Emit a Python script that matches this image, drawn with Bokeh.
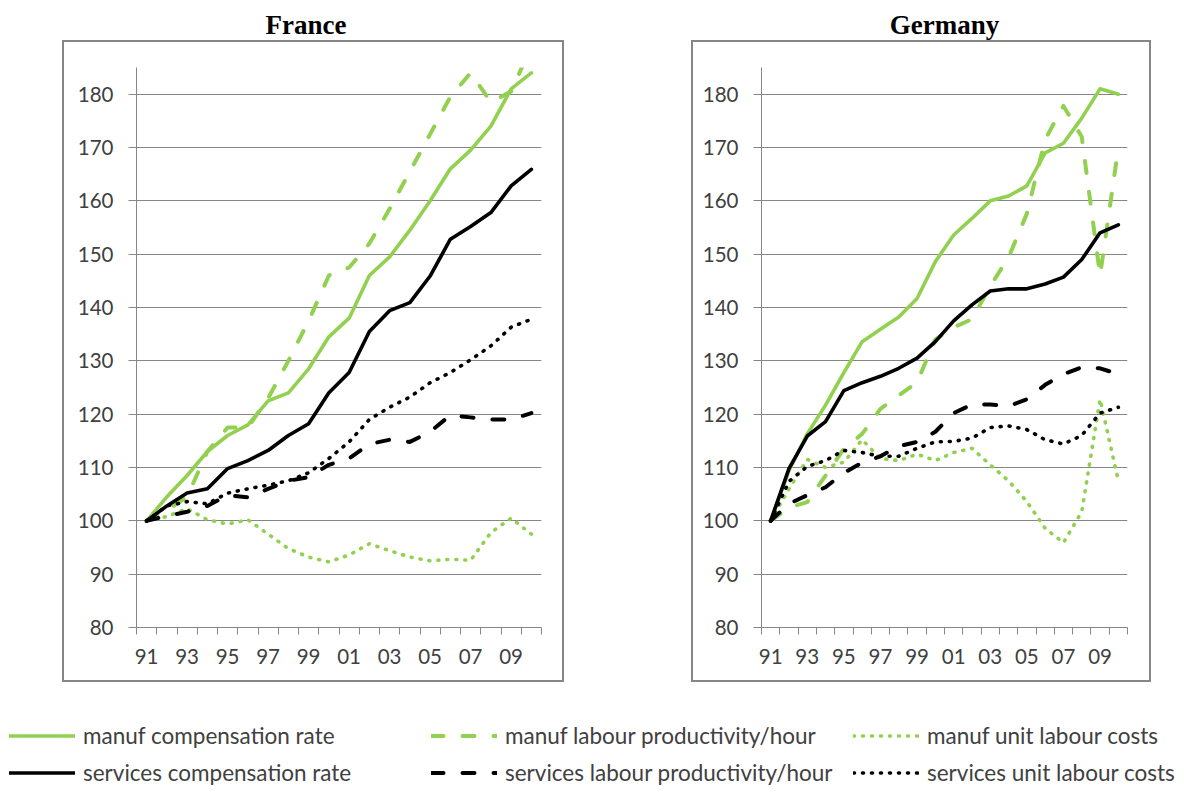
from bokeh.plotting import figure
from bokeh.models import (Range1d, FixedTicker, Legend, LegendItem, Spacer)
from bokeh.layouts import column, row
from bokeh.embed import file_html
from bokeh.resources import INLINE
from bokeh.core.properties import value

# ---------------- data ----------------
years = list(range(1991, 2011))
tick_years = [1991, 1993, 1995, 1997, 1999, 2001, 2003, 2005, 2007, 2009]
tick_labels = ["91", "93", "95", "97", "99", "01", "03", "05", "07", "09"]
y_ticks = [80, 90, 100, 110, 120, 130, 140, 150, 160, 170, 180]
titles = ["France", "Germany"]

series_names = [
    "manuf compensation rate",
    "manuf labour productivity/hour",
    "manuf unit labour costs",
    "services compensation rate",
    "services labour productivity/hour",
    "services unit labour costs",
]

fr_manuf_comp = [100, 104.5, 108.5, 113, 116, 118, 122.5, 124, 128.5, 134.5, 138, 146, 149.5, 154.5, 160, 166, 169.5, 174, 181, 184]
fr_manuf_prod = [100, 102, 104.5, 113, 117.5, 117.5, 123, 130, 137.5, 146, 147.5, 152, 158.5, 165.5, 172.5, 179.5, 184, 178.5, 180.5, 189]
fr_manuf_ulc = [100, 100.8, 102.3, 100.2, 99.4, 100.2, 97.5, 94.8, 93.2, 92.3, 93.6, 95.7, 94.4, 93.2, 92.5, 92.8, 92.6, 97.8, 100.5, 97.5]
fr_serv_comp = [100, 102.8, 105.2, 106, 109.8, 111.3, 113.2, 116, 118.2, 124, 127.8, 135.5, 139.4, 140.9, 145.9, 152.8, 155.2, 157.8, 162.8, 165.9]
fr_serv_prod = [100, 100.9, 101.7, 102.8, 104.8, 104.4, 106, 107.5, 108.2, 110.5, 111.7, 114.4, 115.2, 114.8, 116.7, 119.8, 119.4, 119, 119, 120.2]
fr_serv_ulc = [100, 102.8, 103.6, 103.2, 105.2, 106, 106.7, 107.5, 109, 111.7, 114.8, 119, 121.3, 123.2, 125.9, 127.8, 130.2, 132.8, 136.3, 137.8]

de_manuf_comp = [100, 109.4, 116.3, 121.7, 127.8, 133.6, 135.9, 138.2, 141.7, 148.6, 153.6, 156.7, 160, 160.9, 162.8, 169, 170.8, 175.5, 181, 180]
de_manuf_prod = [100, 102.5, 103.5, 108.5, 113.5, 116.3, 121, 123.5, 126, 134, 136.3, 137.8, 144, 149.4, 157.6, 171.5, 177.8, 172, 146, 170]
de_manuf_ulc = [100, 106, 111.5, 110, 111, 115.2, 111.7, 111.3, 112.5, 111.3, 112.8, 113.6, 110.5, 107.5, 103.6, 98.6, 95.9, 101.7, 122.8, 107.5]
de_serv_comp = [100, 109.8, 115.9, 118.6, 124.4, 125.9, 127.1, 128.6, 130.5, 133.6, 137.5, 140.5, 143.1, 143.5, 143.5, 144.4, 145.7, 149, 154, 155.5]
de_serv_prod = [100, 103.2, 104.8, 106.3, 109, 110.9, 112.1, 114, 114.8, 116.7, 120.2, 121.8, 121.8, 121.5, 122.8, 125.5, 127.5, 128.8, 128.6, 127.5]
de_serv_ulc = [100, 107.4, 110.2, 111.3, 113.2, 112.8, 112.1, 112.1, 113.6, 114.8, 114.9, 115.5, 117.5, 117.8, 117.1, 115.2, 114.4, 116, 120.2, 121.3]

fr_data = [fr_manuf_comp, fr_manuf_prod, fr_manuf_ulc, fr_serv_comp, fr_serv_prod, fr_serv_ulc]
de_data = [de_manuf_comp, de_manuf_prod, de_manuf_ulc, de_serv_comp, de_serv_prod, de_serv_ulc]

# ---------------- styles ----------------
GREEN = "#92D050"
BLACK = "#000000"
GRAY = "#868686"
TEXT = "#404040"
SANS = "Lato"
styles = [
    dict(line_color=GREEN, line_width=3.6, line_dash="solid", line_cap="round"),
    dict(line_color=GREEN, line_width=4, line_dash="12 19", line_cap="round"),
    dict(line_color=GREEN, line_width=3.6, line_dash="1 8", line_cap="round"),
    dict(line_color=BLACK, line_width=3.6, line_dash="solid", line_cap="round"),
    dict(line_color=BLACK, line_width=4, line_dash="12 19", line_cap="round"),
    dict(line_color=BLACK, line_width=3.6, line_dash="1 8", line_cap="round"),
]
TOTAL_W = 1182


def make_chart(data, width, border_left, border_right):
    # width/height include the 2px chart-area border (border-box)
    p = figure(width=width, height=642, output_backend="svg", toolbar_location=None,
               x_range=Range1d(years[0] - 0.5, years[-1] + 0.5), y_range=Range1d(80, 185),
               min_border_left=border_left, min_border_right=border_right,
               min_border_top=25, min_border_bottom=57,
               background_fill_color="white", border_fill_color="white",
               styles={"border": "2px solid #868686"})
    p.outline_line_color = None
    p.xgrid.visible = False
    p.ygrid.grid_line_color = GRAY
    p.ygrid.grid_line_width = 1
    p.ygrid.ticker = FixedTicker(ticks=y_ticks)

    xa = p.xaxis[0]
    xa.ticker = FixedTicker(ticks=tick_years,
                            minor_ticks=[y - 0.5 for y in years] + [years[-1] + 0.5])
    xa.major_label_overrides = {y: l for y, l in zip(tick_years, tick_labels)}
    xa.major_tick_out = 0
    xa.major_tick_in = 0
    xa.major_tick_line_color = None
    xa.minor_tick_out = 7
    xa.minor_tick_in = 0
    xa.minor_tick_line_color = GRAY
    xa.axis_line_color = GRAY
    xa.major_label_standoff = 14
    xa.major_label_text_font = SANS
    xa.major_label_text_font_size = "20.5px"
    xa.major_label_text_color = TEXT

    ya = p.yaxis[0]
    ya.ticker = FixedTicker(ticks=y_ticks)
    ya.major_tick_out = 8
    ya.major_tick_in = 0
    ya.major_tick_line_color = GRAY
    ya.minor_tick_line_color = None
    ya.axis_line_color = GRAY
    ya.major_label_standoff = 15
    ya.major_label_text_font = SANS
    ya.major_label_text_font_size = "20.5px"
    ya.major_label_text_color = TEXT

    for vals, st in zip(data, styles):
        p.line(years, vals, line_join="round", **st)
    return p


# ---------------- titles ----------------
tf = figure(width=TOTAL_W, height=40, output_backend="svg", toolbar_location=None,
            x_range=Range1d(0, TOTAL_W), y_range=Range1d(40, 0),
            x_axis_location=None, y_axis_location=None, min_border=0,
            background_fill_color="white", border_fill_color="white")
tf.outline_line_color = None
tf.grid.visible = False
tf.text(x=[305.5, 944], y=[24.5, 24.5], text=titles,
        text_align="center", text_baseline="middle",
        text_font=value("Liberation Serif"), text_font_style="bold",
        text_font_size=value("27px"), text_color="black")

fr = make_chart(fr_data, 502, 72, 25)
de = make_chart(de_data, 460, 68, 26)

# ---------------- legend ----------------
lg = figure(width=TOTAL_W, height=107, output_backend="svg", toolbar_location=None,
            x_range=Range1d(0, 1), y_range=Range1d(0, 1),
            x_axis_location=None, y_axis_location=None, min_border=0,
            background_fill_color="white", border_fill_color="white")
lg.outline_line_color = None
lg.grid.visible = False
items = []
for name, vals, st in zip(series_names, fr_data, styles):
    r = lg.line(years, vals, **st)   # outside the legend figure's ranges: only the key shows
    items.append(LegendItem(label=name, renderers=[r]))
legend = Legend(items=items, orientation="horizontal", ncols=3, location=(9, -2),
                glyph_width=66, glyph_height=37, label_height=37, label_width=348,
                label_standoff=8, spacing=0, padding=0, margin=0,
                border_line_color=None, background_fill_alpha=0,
                label_text_font=SANS, label_text_font_size="22.5px", label_text_color=TEXT)
lg.add_layout(legend, "center")

layout = column(tf,
                row(Spacer(width=62, height=10), fr, Spacer(width=127, height=10), de),
                lg)
open("out.html", "w").write(file_html(layout, INLINE))
